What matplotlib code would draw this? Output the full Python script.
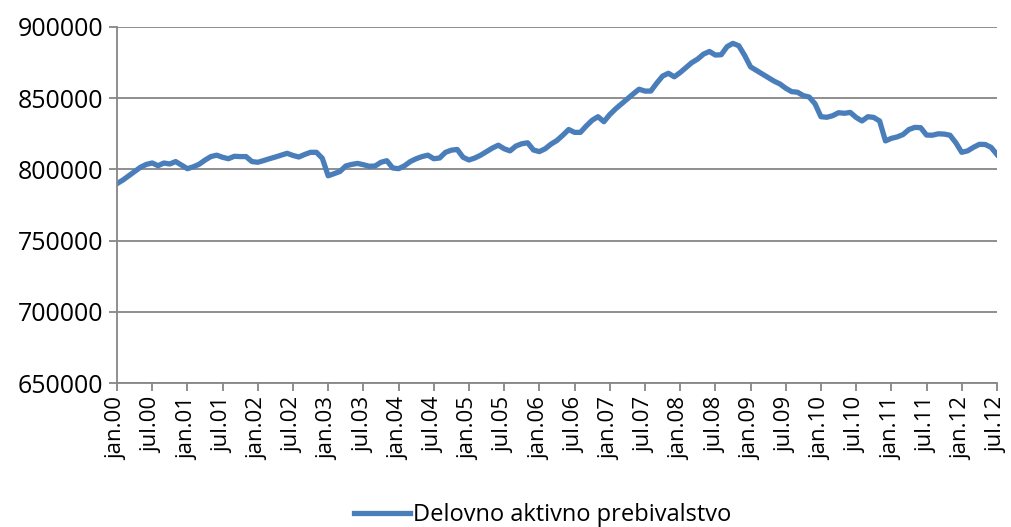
import matplotlib.pyplot as plt
import numpy as np

# mesečni podatki, jan.00 - jul.12
vrednosti = [
    790000, 792500, 795500, 798500, 801500, 803500, 804500, 802600, 804500, 803800, 805500, 803000,
    800500, 801800, 803600, 806500, 809000, 810000, 808500, 807500, 809200, 809000, 809000, 805500,
    805000, 806200, 807500, 808700, 810000, 811300, 809800, 808700, 810500, 812000, 812000, 807800,
    795500, 797000, 798500, 802400, 803500, 804200, 803300, 802200, 802400, 805000, 806100, 801000,
    800500, 802500, 805500, 807500, 809000, 810000, 807500, 808000, 812000, 813500, 814000, 808500,
    806600, 808000, 810000, 812500, 815000, 817000, 814500, 813000, 816400, 818000, 818700, 813600,
    812500, 814500, 817800, 820300, 824000, 828000, 826000, 826000, 830500, 834500, 837000, 833500,
    838500, 842500, 846000, 849500, 853000, 856300, 855000, 855000, 860500, 865500, 867500, 865000,
    868000, 871500, 875000, 877500, 881000, 882800, 880300, 880500, 886200, 888500, 886800, 880000,
    872000, 869500, 867000, 864500, 862000, 860000, 857000, 854600, 854200, 851800, 850800, 846000,
    837000, 836600, 837700, 839800, 839400, 840000, 836500, 834000, 837000, 836500, 834000, 820000,
    821800, 822800, 824500, 828000, 829500, 829300, 824100, 824000, 825000, 824800, 824000, 818700,
    812000, 813000, 815500, 817600, 817500, 815500, 810500,
]
leta = [f"{y:02d}" for y in range(0, 13)]
oznake = []
for y in leta:
    oznake += [f"jan.{y}", f"jul.{y}"]
oznake = oznake[:26]
y_ticks = [650000, 700000, 750000, 800000, 850000, 900000]

plt.rcParams['font.family'] = ['Open Sans', 'DejaVu Sans']

fig = plt.figure(figsize=(10.12, 5.27), dpi=100)
ax = fig.add_axes([0.1156, 0.2732, 0.8695, 0.6756])

x = np.arange(len(vrednosti))
ax.plot(x, vrednosti, color="#4A7EBB", linewidth=3.8, solid_joinstyle="round",
        label="Delovno aktivno prebivalstvo")

ax.set_xlim(0, len(vrednosti) - 1)
ax.set_ylim(650000, 900000)
ax.set_yticks(y_ticks)
ax.set_yticklabels([str(v) for v in y_ticks], fontsize=18)
ax.set_xticks(np.arange(0, len(vrednosti), 6))
ax.set_xticklabels(oznake, rotation=90, fontsize=16)

ax.grid(axis="y", color="#868686", linewidth=1.3)
ax.set_axisbelow(True)
for s in ["top", "right"]:
    ax.spines[s].set_visible(False)
for s in ["left", "bottom"]:
    ax.spines[s].set_color("#868686")
    ax.spines[s].set_linewidth(1.3)
ax.tick_params(axis="both", color="#868686", width=1.3, length=6, pad=4)

fig.legend(loc="lower center", bbox_to_anchor=(0.536, -0.04), frameon=False,
           fontsize=17, handlelength=2.4, handletextpad=0.1)

fig.savefig("out.png", dpi=100)
